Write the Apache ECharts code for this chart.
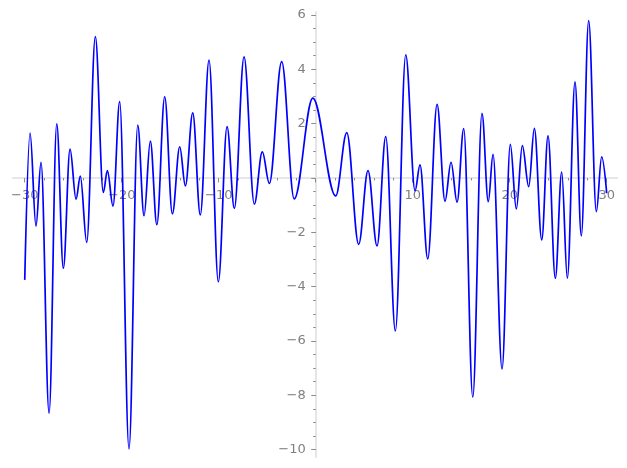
<!DOCTYPE html>
<html><head><meta charset="utf-8">
<script src="https://cdn.jsdelivr.net/npm/echarts@6/dist/echarts.min.js"></script>
<style>html,body{margin:0;padding:0;background:#fff}#c{width:627px;height:468px}</style>
</head><body><div id="c"></div>
<script>
// Curve samples (turning points, plus the two ends)
const xValues = [-30, -29.45, -28.84, -28.32, -27.49, -26.70, -26.02, -25.33, -24.71, -24.27,
  -23.61, -22.72, -21.90, -21.48, -20.90, -20.21, -19.25, -18.35, -17.70, -17.05,
  -16.38, -15.57, -14.78, -14.02, -13.44, -12.68, -11.90, -11.00, -10.04, -9.14,
  -8.39, -7.39, -6.33, -5.51, -4.78, -3.51, -2.22, -0.30, 2.06, 3.20,
  4.43, 5.39, 6.32, 7.22, 8.21, 9.28, 10.24, 10.75, 11.55, 12.51,
  13.33, 13.95, 14.57, 15.26, 16.19, 17.14, 17.79, 18.28, 19.21, 20.06,
  20.68, 21.30, 21.96, 22.54, 23.30, 23.95, 24.70, 25.36, 25.94, 26.73,
  27.38, 28.14, 28.93, 29.48, 30];
const yValues = [-3.75, 1.65, -1.77, 0.58, -8.66, 1.99, -3.32, 1.06, -0.78, 0.07,
  -2.37, 5.20, -0.53, 0.27, -1.03, 2.81, -9.97, 1.95, -1.39, 1.36,
  -1.72, 2.99, -1.32, 1.15, -0.29, 2.40, -1.36, 4.34, -3.82, 1.89,
  -1.12, 4.46, -0.96, 0.96, -0.20, 4.28, -0.77, 2.94, -0.66, 1.67,
  -2.44, 0.27, -2.50, 1.52, -5.63, 4.53, -0.47, 0.48, -2.98, 2.71,
  -0.85, 0.58, -0.89, 1.82, -8.07, 2.38, -0.87, 0.87, -7.03, 1.24,
  -1.14, 1.19, -0.32, 1.83, -2.28, 1.55, -3.69, 0.22, -3.69, 3.54,
  -2.13, 5.79, -1.24, 0.78, -0.56];

const xMajorTicks = [-30, -20, -10, 0, 10, 20, 30];
const xMinorTicks = [-30, -28, -26, -24, -22, -20, -18, -16, -14, -12, -10, -8, -6, -4, -2, 0,
  2, 4, 6, 8, 10, 12, 14, 16, 18, 20, 22, 24, 26, 28, 30];
const xTickLabels = [-30, -20, -10, 10, 20, 30];
const yMajorTicks = [-10, -8, -6, -4, -2, 0, 2, 4, 6];
const yMinorTicks = [-10, -9.5, -9, -8.5, -8, -7.5, -7, -6.5, -6, -5.5, -5, -4.5, -4, -3.5, -3, -2.5,
  -2, -1.5, -1, -0.5, 0, 0.5, 1, 1.5, 2, 2.5, 3, 3.5, 4, 4.5, 5, 5.5, 6];
const yTickLabels = [-10, -8, -6, -4, -2, 2, 4, 6];

const X_MIN = -31.21, X_MAX = 31.06, Y_MIN = -10.27, Y_MAX = 6.11;
const GRID = {left: 13, right: 10, top: 12, bottom: 11};
const W = 627, H = 468;
const AXIS_LINE = '#e6e6e6', TICK = '#8c8c8c', LABEL = '#808080';
const fmt = v => (v < 0 ? '\u2212' + Math.abs(v) : String(v));

// pixel distance of the zero lines from the grid edges (axes cross at the origin)
const plotW = W - GRID.left - GRID.right, plotH = H - GRID.top - GRID.bottom;
const zeroXpx = (0 - X_MIN) / (X_MAX - X_MIN) * plotW;   // from grid left
const zeroYpx = (0 - Y_MIN) / (Y_MAX - Y_MIN) * plotH;   // from grid bottom

const chart = echarts.init(document.getElementById('c'), null, {renderer: 'canvas'});
const pts = xValues.map((x, i) => [x, yValues[i]]);

chart.setOption({
  animation: false,
  backgroundColor: '#ffffff',
  grid: Object.assign({containLabel: false, outerBoundsMode: 'none'}, GRID),
  xAxis: [{
    type: 'value', min: X_MIN, max: X_MAX, position: 'bottom', offset: -zeroYpx,
    axisLine: {show: true, onZero: false, lineStyle: {color: AXIS_LINE, width: 2}},
    axisTick: {show: true, customValues: xMajorTicks, length: 4.5, lineStyle: {color: TICK, width: 1}},
    axisLabel: {show: true, customValues: xTickLabels, formatter: fmt, color: LABEL,
      fontFamily: 'DejaVu Sans', fontSize: 13, margin: 11},
    splitLine: {show: false}
  }, {
    type: 'value', min: X_MIN, max: X_MAX, position: 'bottom', offset: -zeroYpx,
    axisLine: {show: false, onZero: false},
    axisTick: {show: true, customValues: xMinorTicks, length: 2.5, lineStyle: {color: TICK, width: 1}},
    axisLabel: {show: false}, splitLine: {show: false}
  }],
  yAxis: [{
    type: 'value', min: Y_MIN, max: Y_MAX, position: 'left', offset: -zeroXpx,
    axisLine: {show: true, onZero: false, lineStyle: {color: AXIS_LINE, width: 2}},
    axisTick: {show: true, customValues: yMajorTicks, length: 4.5, lineStyle: {color: TICK, width: 1}},
    axisLabel: {show: true, customValues: yTickLabels, formatter: fmt, color: LABEL,
      fontFamily: 'DejaVu Sans', fontSize: 13, margin: 10},
    splitLine: {show: false}
  }, {
    type: 'value', min: Y_MIN, max: Y_MAX, position: 'left', offset: -zeroXpx,
    axisLine: {show: false, onZero: false},
    axisTick: {show: true, customValues: yMinorTicks, length: 2.5, lineStyle: {color: TICK, width: 1}},
    axisLabel: {show: false}, splitLine: {show: false}
  }],
  series: [{
    type: 'line', xAxisIndex: 0, yAxisIndex: 0, data: pts,
    showSymbol: false, symbol: 'none', smooth: 0.36, smoothMonotone: 'x',
    lineStyle: {color: '#0000ff', width: 1.7}, clip: false
  }]
});
</script></body></html>
